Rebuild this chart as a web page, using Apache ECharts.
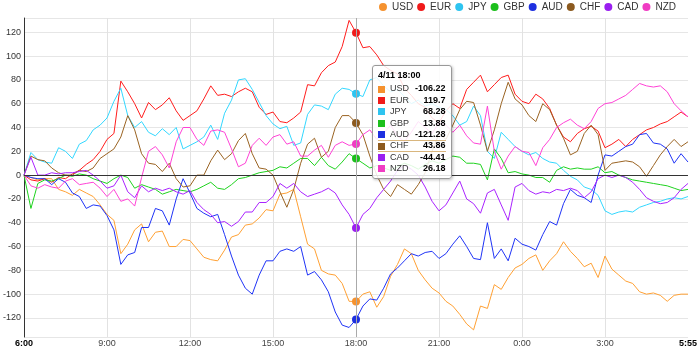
<!DOCTYPE html>
<html>
<head>
<meta charset="utf-8">
<script src="https://cdn.jsdelivr.net/npm/echarts@6/dist/echarts.min.js"></script>
<style>
html,body{margin:0;padding:0;background:#fff;}
#chart{width:700px;height:358px;}
</style>
</head>
<body>
<div id="chart"></div>
<script>
// x-axis categories (15-minute steps, 4/11 6:00 -> 4/12 5:55)
var times = ["6:00","6:15","6:30","6:45","7:00","7:15","7:30","7:45","8:00","8:15","8:30","8:45",
"9:00","9:15","9:30","9:45","10:00","10:15","10:30","10:45","11:00","11:15","11:30","11:45",
"12:00","12:15","12:30","12:45","13:00","13:15","13:30","13:45","14:00","14:15","14:30","14:45",
"15:00","15:15","15:30","15:45","16:00","16:15","16:30","16:45","17:00","17:15","17:30","17:45",
"18:00","18:15","18:30","18:45","19:00","19:15","19:30","19:45","20:00","20:15","20:30","20:45",
"21:00","21:15","21:30","21:45","22:00","22:15","22:30","22:45","23:00","23:15","23:30","23:45",
"0:00","0:15","0:30","0:45","1:00","1:15","1:30","1:45","2:00","2:15","2:30","2:45",
"3:00","3:15","3:30","3:45","4:00","4:15","4:30","4:45","5:00","5:15","5:30","5:45","5:55"];
var tipDate = "4/11";
var tipIndex = 48;
var currencies = ["USD","EUR","JPY","GBP","AUD","CHF","CAD","NZD"];
var colors = ["#f5922f","#f01a1a","#2ec4f0","#1cbf1c","#1d2fe0","#8c5a1f","#9a1ff0","#f03cc3"];

var USD = [0,-2,-4,-3,-3,-12,-14,-17,-12,-15,
-18,-25,-33,-38,-66,-58,-46,-41,-56,-48,
-47,-60,-60,-54,-55,-62,-69,-71,-72,-63,
-52,-50,-42,-41,-36,-29,-30,-16,-15,-12,
-35,-58,-62,-80,-83,-84,-91,-106,-106.22,-100,
-98,-111,-102,-85,-75,-62,-66,-80,-88,-95,
-99,-106,-110,-117,-125,-130,-110,-112,-92,-96,
-86,-78,-75,-70,-67,-80,-72,-66,-56,-64,
-70,-77,-74,-86,-68,-79,-84,-89,-91,-98,
-100,-99,-101,-106,-101,-100,-100];
var EUR = [0,-4,-5,-3,-6,-2,-3,1,4,9,
13,20,30,35,79,70,60,48,61,55,
59,65,54,46,50,54,64,75,67,68,
66,70,73,70,57,51,53,45,44,48,
53,76,75,86,92,95,108,130,119.7,107,
108,101,92,88,85,73,67,60,57,48,
44,54,60,56,72,78,84,70,76,82,
84,68,62,60,68,64,56,42,32,28,
35,39,41,37,23,26,30,24,30,34,
38,40,43,45,49,53,49];
var JPY = [0,19,13,11,10,23,20,14,26,29,
38,42,48,62,73,50,40,45,36,33,
39,34,40,22,25,28,32,42,30,52,
63,80,81,72,61,50,43,39,41,25,
27,51,59,58,55,68,73,72,68.28,66,
80,82,75,70,72,66,60,63,58,60,
57,55,50,42,45,58,50,20,14,36,
30,24,20,17,19,14,11,10,4,-1,
-4,-10,-12,-17,-30,-33,-31,-30,-31,-27,
-25,-23,-22,-20,-19,-20,-18];
var GBP = [0,-28,-7,-4,-5,-3,0,-1,1,0,
-3,-5,-7,-3,0,-2,-11,-8,-10,-12,
-16,-14,-12,-13,-14,-12,-9,-6,-11,-12,
-8,-3,-2,0,2,3,4,7,6,10,
14,14,8,15,8,5,11,18,13.88,10,
6,8,6,4,7,10,8,5,9,12,
10,13,16,15,10,10,9,-4,22,14,
2,3,1,0,-2,-2,-6,4,7,5,
6,5,5,7,2,3,0,-2,-4,-5,
-6,-7,-8,-9,-11,-13,-12];
var AUD = [0,-2,-3,-3,-8,-3,-6,-15,-18,-28,
-25,-26,-34,-46,-75,-67,-65,-44,-44,-28,
-30,-42,-20,-3,-15,-28,-32,-35,-33,-50,
-68,-84,-95,-100,-84,-72,-72,-64,-62,-64,
-60,-84,-81,-88,-98,-115,-126,-128,-121.28,-110,
-104,-105,-95,-83,-78,-72,-66,-68,-65,-64,
-70,-66,-58,-51,-60,-70,-71,-40,-70,-62,
-72,-53,-58,-60,-63,-50,-39,-42,-24,-12,
-17,-19,-23,0,17,16,20,24,26,34,
35,27,26,22,10,18,11];
var CHF = [0,16,13,12,6,2,0,0,4,3,
6,14,18,22,32,50,38,18,10,9,
3,10,-3,-10,-9,0,0,12,21,13,
18,29,35,18,6,5,0,-14,-27,-12,
10,26,31,15,20,40,50,50,43.86,34,
16,0,-12,-18,-8,-12,-16,-8,2,20,
35,30,42,55,62,61,42,20,38,60,
78,64,59,50,45,60,55,42,31,17,
20,35,42,34,4,10,11,12,11,7,
-1,8,17,24,30,24,28];
var CAD = [0,15,0,0,2,1,2,2,3,4,
0,-5,-11,-9,0,-14,-19,-9,-14,-11,
-13,-11,-14,-16,-13,-23,-29,-33,-40,-39,
-43,-39,-31,-31,-23,-23,-18,-7,-11,-7,
-14,-18,-16,-14,-11,-15,-25,-33,-44.41,-33,
-28,-19,-12,-5,4,8,5,0,-10,-22,
-30,-25,-15,-5,-20,-24,-32,-15,-12,-25,
-38,-10,-7,-13,-16,-14,-15,-12,-13,-11,
-13,-19,-14,-3,0,-2,0,-2,-6,-12,
-19,-22,-24,-23,-19,-12,-7];
var NZD = [0,-9,-11,-8,-10,-11,-5,-3,-8,-7,
-6,-11,-18,-12,-22,-20,-26,-2,20,24,
17,6,28,40,40,30,25,37,38,36,
22,7,10,25,31,25,32,34,26,28,
16,16,21,25,15,25,28,25,26.18,34,
38,30,35,42,33,28,36,45,40,35,
44,42,36,42,33,27,26,58,20,5,
16,24,20,19,8,23,30,40,44,47,
42,39,45,56,60,61,64,67,72,77,
75,74,75,70,60,54,49];
var seriesValues = [USD, EUR, JPY, GBP, AUD, CHF, CAD, NZD];

var FONT = '"Liberation Sans", Arial, sans-serif';
var chart = echarts.init(document.getElementById('chart'), null, {renderer: 'canvas'});

var series = currencies.map(function (name, k) {
  var s = {
    name: name,
    type: 'line',
    data: seriesValues[k],
    showSymbol: false,
    symbol: 'circle',
    symbolSize: 8,
    lineStyle: {width: 1, color: colors[k]},
    itemStyle: {color: colors[k], borderWidth: 0},
    emphasis: {scale: false, lineStyle: {width: 1}},
    animation: false
  };
  if (k === 0) {
    s.markLine = {
      silent: true,
      symbol: ['none', 'none'],
      label: {show: false},
      lineStyle: {color: '#333', width: 1, type: 'solid'},
      emphasis: {disabled: true},
      data: [{yAxis: 0}]
    };
  }
  return s;
});

var option = {
  animation: false,
  color: colors,
  textStyle: {fontFamily: FONT},
  grid: {left: 20, right: 10, top: 18, bottom: 21, containLabel: false},
  legend: {
    data: currencies,
    right: 24,
    top: 2,
    icon: 'circle',
    itemWidth: 8,
    itemHeight: 8,
    itemGap: 4,
    padding: 0,
    textStyle: {fontSize: 10, color: '#333', fontFamily: FONT}
  },
  tooltip: {
    trigger: 'axis',
    triggerOn: 'none',
    alwaysShowContent: true,
    position: [372, 65],
    backgroundColor: 'rgba(255,255,255,0.85)',
    borderColor: '#999',
    borderWidth: 1,
    padding: [4, 5, 3, 5],
    extraCssText: 'border-radius:3px;box-shadow:1px 1px 3px rgba(0,0,0,0.25);',
    textStyle: {fontSize: 9, color: '#000', fontFamily: FONT},
    axisPointer: {type: 'line', lineStyle: {color: '#aaa', width: 1, type: 'solid'}, animation: false},
    formatter: function (params) {
      var h = '<div style="font-family:' + FONT.replace(/"/g, "'") + ';font-size:9px;line-height:11.4px;color:#000">';
      h += '<div style="font-weight:bold;margin-bottom:2px">' + tipDate + ' ' + params[0].axisValue + '</div>';
      h += '<table style="border-collapse:collapse;border-spacing:0;font-size:9px;line-height:11.4px">';
      params.forEach(function (p) {
        var hl = p.seriesName === 'CHF';
        var bd = hl ? 'box-shadow:inset 0 1px 0 #d9b67e, inset 0 -1px 0 #d9b67e;' : '';
        h += '<tr>' +
          '<td style="padding:0 5px 0 0;' + bd + '"><span style="display:inline-block;width:7px;height:7px;background:' + p.color + ';vertical-align:middle"></span></td>' +
          '<td style="padding:0 6px 0 0;color:#333;' + bd + '">' + p.seriesName + '</td>' +
          '<td style="padding:0;text-align:right;font-weight:bold;' + bd + '">' + p.value + '</td></tr>';
      });
      h += '</table></div>';
      return h;
    }
  },
  xAxis: {
    type: 'category',
    data: times,
    boundaryGap: false,
    axisLine: {show: false, onZero: false},
    axisTick: {show: false},
    axisLabel: {
      interval: 11,
      fontSize: 9,
      color: '#444',
      margin: 2,
      fontFamily: FONT,
      formatter: function (v, i) {
        return (i === 0 || i === times.length - 1) ? '{b|' + v + '}' : v;
      },
      rich: {b: {fontWeight: 'bold', color: '#000', fontSize: 9, fontFamily: FONT}}
    },
    splitLine: {
      show: true,
      interval: function (i) { return i % 12 === 0 && i !== 0 && i !== times.length - 1; },
      lineStyle: {color: '#e2e2e2', width: 1}
    }
  },
  yAxis: {
    type: 'value',
    min: -136,
    max: 132,
    splitNumber: 13,
    minInterval: 20,
    maxInterval: 20,
    axisLine: {show: true, lineStyle: {color: '#333', width: 1}},
    axisTick: {show: false},
    axisLabel: {
      fontSize: 9, color: '#333', margin: 3, fontFamily: FONT,
      showMinLabel: false, showMaxLabel: false,
      formatter: function (v) { return v % 20 === 0 ? String(v) : ''; }
    },
    splitLine: {show: true, lineStyle: {color: '#e6e6e6', width: 1}}
  },
  series: series
};
chart.setOption(option);
chart.dispatchAction({type: 'showTip', seriesIndex: 0, dataIndex: tipIndex});
</script>
</body>
</html>
